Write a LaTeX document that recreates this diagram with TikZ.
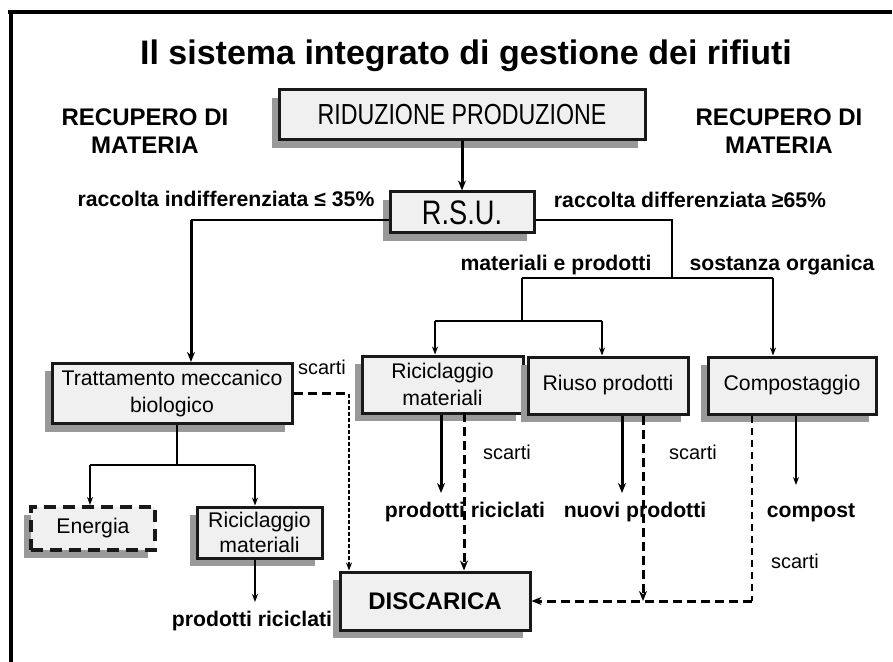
\documentclass[tikz,border=0pt]{standalone}
\usepackage{fontspec}
\setmainfont{Liberation Sans}
\newfontfamily\narrowfont[FakeStretch=0.8]{Liberation Sans}
\usetikzlibrary{arrows.meta, shadows}
\tikzstyle{box} = [rectangle, line width=1.5pt, draw=black!90, fill=gray!12, align=center, text centered, font=\fontsize{10.6}{13.5}\selectfont, drop shadow={shadow xshift=-3.5pt, shadow yshift=-4pt, fill=black!40, opacity=1}]
\tikzstyle{dashbox} = [box, line width=2pt, dash pattern=on 6pt off 3.5pt]
\tikzstyle{heading} = [align=center, inner sep=0pt, font=\fontsize{12}{14}\selectfont\bfseries]
\tikzstyle{boldtext} = [inner sep=0pt, anchor=base, font=\fontsize{10.6}{13}\selectfont\bfseries]
\tikzstyle{scarto} = [inner sep=0pt, anchor=base, font=\fontsize{10}{12}\selectfont]
\tikzstyle{conn} = [line width=0.6pt]
\tikzstyle{thinarrow} = [line width=0.7pt, -{Stealth[length=4pt, width=3pt]}]
\tikzstyle{arrow} = [line width=1.5pt, -{Stealth[length=5pt, width=4pt]}]
\tikzstyle{dashline} = [line width=1.5pt, dash pattern=on 4.5pt off 2.5pt]
\tikzstyle{dasharrow} = [dashline, -{Stealth[length=5pt, width=4pt]}]
\tikzstyle{finedash} = [line width=0.6pt, dash pattern=on 2pt off 1pt, -{Stealth[length=4pt, width=3pt]}]
\tikzstyle{meddash} = [line width=0.8pt, dash pattern=on 3.5pt off 2.5pt]

\begin{document}
\begin{tikzpicture}[x=0.5pt, y=-0.5pt]
    \useasboundingbox (0,0) rectangle (893,662);
    % Frame
    \draw [line width=2pt] (8,12.5) -- (892,12.5);
    \draw [line width=2pt] (10.5,12.5) -- (10.5,662);

    % Nodes
    \node (title) [anchor=base, inner sep=0pt, font=\fontsize{17}{20}\selectfont\bfseries] at (466,65) {Il sistema integrato di gestione dei rifiuti};
    \node (rid) [box, minimum width=183pt, minimum height=25pt, font=\fontsize{14.5}{16}\narrowfont] at (462,115) {RIDUZIONE PRODUZIONE};
    \node (recl) [heading] at (145,131) {RECUPERO DI\\MATERIA};
    \node (recr) [heading] at (779,131) {RECUPERO DI\\MATERIA};
    \node (rsu) [box, minimum width=72pt, minimum height=20.5pt, font=\fontsize{17}{19}\narrowfont] at (462,212.5) {R.S.U.};
    \node (indiff) [boldtext] at (226,207) {raccolta indifferenziata ≤ 35\%};
    \node (diff) [boldtext] at (690,208) {raccolta differenziata ≥65\%};
    \node (matprod) [boldtext] at (556,271) {materiali e prodotti};
    \node (sost) [boldtext] at (782,271) {sostanza organica};
    \node (tmb) [box, minimum width=120pt, minimum height=29.5pt] at (172,393.5) {Trattamento meccanico\\biologico};
    \node (ricm) [box, minimum width=80.5pt, minimum height=28.5pt] at (442.5,384.5) {Riciclaggio\\materiali};
    \node (riuso) [box, minimum width=80pt, minimum height=28.5pt] at (608,385.5) {Riuso prodotti};
    \node (comp) [box, minimum width=84pt, minimum height=28.5pt] at (792,385.5) {Compostaggio};
    \node (energia) [dashbox, minimum width=62pt, minimum height=21.5pt] at (93,528.5) {Energia};
    \node (ricm2) [box, minimum width=62.5pt, minimum height=25.5pt, inner sep=1pt, font=\fontsize{10.6}{12.5}\selectfont] at (259.5,532.5) {Riciclaggio\\materiali};
    \node (disc) [box, minimum width=95pt, minimum height=29pt, font=\fontsize{12}{14}\selectfont\bfseries] at (435,601) {DISCARICA};
    \node (prl) [boldtext] at (252,626) {prodotti riciclati};
    \node (prm) [boldtext] at (465,517) {prodotti riciclati};
    \node (nuovi) [boldtext] at (635,517) {nuovi prodotti};
    \node (compost) [boldtext] at (811,517) {compost};
    \node (s1) [scarto] at (322,374) {scarti};
    \node (s2) [scarto] at (507,459) {scarti};
    \node (s3) [scarto] at (693,459) {scarti};
    \node (s4) [scarto] at (795,568) {scarti};

    % Bends
    \coordinate (left) at (191,220);
    \coordinate (split) at (672,278);
    \coordinate (splitl) at (522,278);
    \coordinate (splitr) at (773,278);
    \coordinate (matl) at (522,321);
    \coordinate (mleft) at (435,321);
    \coordinate (mright) at (602,321);
    \coordinate (tmbdown) at (177,465);
    \coordinate (eleft) at (90,465);
    \coordinate (eright) at (255,465);
    \coordinate (prltip) at (255,602);
    \coordinate (prmtip) at (441,493);
    \coordinate (nuovitip) at (622,493);
    \coordinate (compostip) at (796,485);
    \coordinate (tmbscarti) at (349,393.5);
    \coordinate (ricscarti) at (464,413);
    \coordinate (riusoscarti) at (643,601);
    \coordinate (compscarti) at (752,601);

    % Arrows
    \draw [arrow] (rid) -- (rsu);
    \draw [conn] ([yshift=-3.75pt]rsu.west) -- (left);
    \draw [arrow] (left) -- (left |- tmb.north);
    \draw [conn] ([yshift=-3.75pt]rsu.east) -| (split);
    \draw [conn] (splitl) -- (splitr);
    \draw [thinarrow] (splitr) -- (splitr |- comp.north);
    \draw [conn] (splitl) -- (matl);
    \draw [conn] (mleft) -- (mright);
    \draw [thinarrow] (mleft) -- (mleft |- ricm.north);
    \draw [thinarrow] (mright) -- (mright |- riuso.north);
    \draw [conn] (tmbdown |- tmb.south) -- (tmbdown);
    \draw [conn] (eleft) -- (eright);
    \draw [thinarrow] (eleft) -- (eleft |- energia.north);
    \draw [thinarrow] (eright) -- (eright |- ricm2.north);
    \draw [thinarrow] (prltip |- ricm2.south) -- (prltip);
    \draw [arrow] (prmtip |- ricm.south) -- (prmtip);
    \draw [arrow] (nuovitip |- riuso.south) -- (nuovitip);
    \draw [thinarrow] (compostip |- comp.south) -- (compostip);
    \draw [dashline] (tmb.east) -- (tmbscarti);
    \draw [finedash] (tmbscarti) -- (tmbscarti |- disc.north);
    \draw [dasharrow] (ricscarti) -- (ricscarti |- disc.north);
    \draw [dasharrow] (riusoscarti |- riuso.south) -- (riusoscarti);
    \draw [meddash] (compscarti |- comp.south) -- (compscarti);
    \draw [dasharrow] (compscarti) -- (disc.east);
\end{tikzpicture}
\end{document}
